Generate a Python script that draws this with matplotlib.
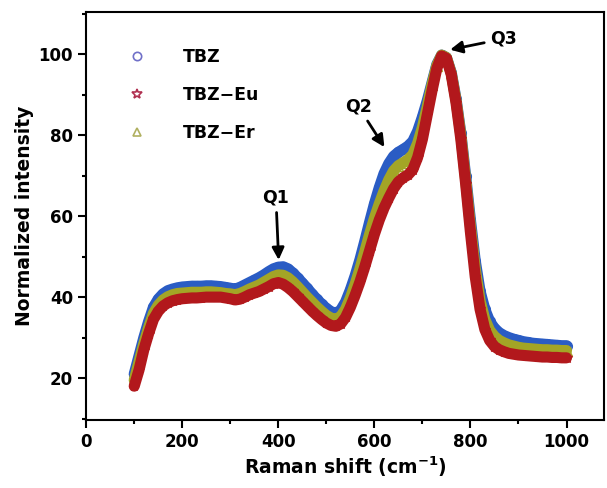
import numpy as np
import matplotlib
matplotlib.use('Agg')
import matplotlib.pyplot as plt
from matplotlib.lines import Line2D
from matplotlib.ticker import MultipleLocator

plt.rcParams['font.family'] = ['DejaVu Sans']
plt.rcParams['font.weight'] = 'bold'
plt.rcParams['mathtext.default'] = 'bf'

# Raman shift (cm-1), every 10 from 100 to 1000
shift = np.arange(100, 1001, 10)

tbz = [21, 25.5, 30, 34, 37.5, 39.5, 40.8, 41.6, 42.0, 42.3,
       42.5, 42.6, 42.7, 42.7, 42.7, 42.8, 42.8, 42.7, 42.6, 42.4,
       42.2, 42.0, 42.4, 43.0, 43.6, 44.2, 44.8, 45.5, 46.3, 47.0,
       47.4, 47.5, 47.0, 46.0, 44.8, 43.5, 42.2, 40.8, 39.5, 38.3,
       37.2, 36.4, 36.0, 36.8, 38.8, 41.8, 45.3, 49.3, 53.8, 58.5,
       63.0, 67.0, 70.5, 73.0, 74.8, 75.8, 76.5, 77.3, 78.5, 81.0,
       84.5, 88.5, 93.0, 97.5, 99.8, 99.2, 95.5, 89.0, 80.5, 70.0,
       59.0, 49.0, 41.5, 37.0, 34.0, 32.3, 31.2, 30.5, 30.0, 29.6,
       29.3, 29.0, 28.8, 28.6, 28.5, 28.4, 28.3, 28.2, 28.1, 28.0, 28.0]

tbz_er = [19.5, 24, 28.5, 32.5, 36, 38, 39.3, 40.1, 40.6, 40.9,
          41.0, 41.1, 41.2, 41.2, 41.2, 41.3, 41.3, 41.2, 41.1, 40.9,
          40.8, 40.6, 40.9, 41.4, 42.0, 42.5, 43.0, 43.7, 44.4, 45.1,
          45.5, 45.4, 44.8, 43.8, 42.6, 41.3, 40.0, 38.8, 37.6, 36.5,
          35.5, 34.8, 34.5, 35.2, 37.0, 39.8, 43.2, 47.0, 51.2, 55.5,
          59.5, 63.0, 66.2, 69.0, 71.2, 72.5, 73.2, 74.0, 75.2, 78.0,
          82.0, 87.0, 92.5, 97.2, 99.8, 99.2, 95.3, 88.6, 80.0, 69.0,
          57.5, 47.0, 39.2, 34.5, 31.8, 30.3, 29.3, 28.7, 28.2, 27.9,
          27.6, 27.4, 27.3, 27.2, 27.1, 27.0, 27.0, 26.9, 26.9, 26.8, 26.8]

tbz_eu = [18, 22, 27, 31, 34.5, 36.5, 37.8, 38.6, 39.1, 39.4,
          39.6, 39.7, 39.8, 39.8, 39.9, 40.0, 40.0, 40.0, 40.0, 39.8,
          39.6, 39.3, 39.5, 40.0, 40.6, 41.0, 41.4, 42.0, 42.6, 43.3,
          43.6, 43.2, 42.4, 41.4, 40.2, 39.0, 37.8, 36.6, 35.5, 34.5,
          33.6, 33.0, 32.8, 33.4, 35.0, 37.5, 40.5, 43.8, 47.5, 51.5,
          55.5, 59.0, 62.0, 64.5, 66.8, 68.5, 69.5, 70.2, 71.5, 74.5,
          79.0, 85.0, 91.0, 96.5, 99.6, 99.0, 95.0, 88.0, 79.0, 68.0,
          56.0, 45.0, 37.0, 32.0, 29.3, 27.8, 27.0, 26.5, 26.1, 25.9,
          25.7, 25.6, 25.5, 25.4, 25.3, 25.2, 25.2, 25.1, 25.1, 25.0, 25.0]

labels = ['TBZ', 'TBZ\u2212Eu', 'TBZ\u2212Er']
colors = ['#2a5cc4', '#b2181c', '#a3a526']

fig = plt.figure(figsize=(6.07, 4.88), dpi=100)
ax = fig.add_axes([0.142, 0.139, 0.853, 0.836])

# draw order: blue first, olive, red on top
z = 2
for y, c, m in [(tbz, colors[0], 'o'), (tbz_er, colors[2], '^'), (tbz_eu, colors[1], '*')]:
    ax.plot(shift, y, color=c, lw=8, solid_capstyle='round', solid_joinstyle='round', zorder=z)
    ax.plot(shift, y, ls='none', marker=m, ms=7, mfc='none', mec=c, mew=1, zorder=z + 0.5)
    z += 1

ax.set_xlim(0, 1078)
ax.set_ylim(9.6, 110.4)
ax.xaxis.set_major_locator(MultipleLocator(200))
ax.xaxis.set_minor_locator(MultipleLocator(100))
ax.yaxis.set_major_locator(MultipleLocator(20))
ax.yaxis.set_minor_locator(MultipleLocator(10))
ax.tick_params(which='major', length=6, width=1.5, labelsize=12)
ax.tick_params(which='minor', length=3, width=1.5)
for lab in ax.get_xticklabels() + ax.get_yticklabels():
    lab.set_fontweight('bold')
for s in ax.spines.values():
    s.set_linewidth(1.5)

ax.set_xlabel('Raman shift (cm$^{-1}$)', fontsize=13.5, fontweight='bold', labelpad=2)
ax.set_ylabel('Normalized intensity', fontsize=13.5, fontweight='bold', labelpad=3)

# legend (markers only)
handles = [Line2D([], [], ls='none', marker='o', ms=6, mfc='none', mec='#7070c8', mew=1.2),
           Line2D([], [], ls='none', marker='*', ms=7, mfc='none', mec='#b03050', mew=1.2),
           Line2D([], [], ls='none', marker='^', ms=6, mfc='none', mec='#b0b060', mew=1.2)]
ax.legend(handles, labels, loc='upper left', bbox_to_anchor=(0.035, 0.95), frameon=False,
          prop={'weight': 'bold', 'size': 12.5}, labelspacing=1.15, handletextpad=1.6)

arrow = dict(arrowstyle='-|>', color='black', lw=2, mutation_scale=18)
ax.annotate('Q1', xy=(401, 48.5), xytext=(395, 64.5), ha='center', va='center',
            fontsize=12.5, fontweight='bold', arrowprops=arrow)
ax.annotate('Q2', xy=(624, 76.5), xytext=(567, 87), ha='center', va='center',
            fontsize=12.5, fontweight='bold', arrowprops=arrow)
ax.annotate('Q3', xy=(752, 101), xytext=(868, 103.8), ha='center', va='center',
            fontsize=12.5, fontweight='bold', arrowprops=arrow)

fig.savefig('out.png', dpi=100)
